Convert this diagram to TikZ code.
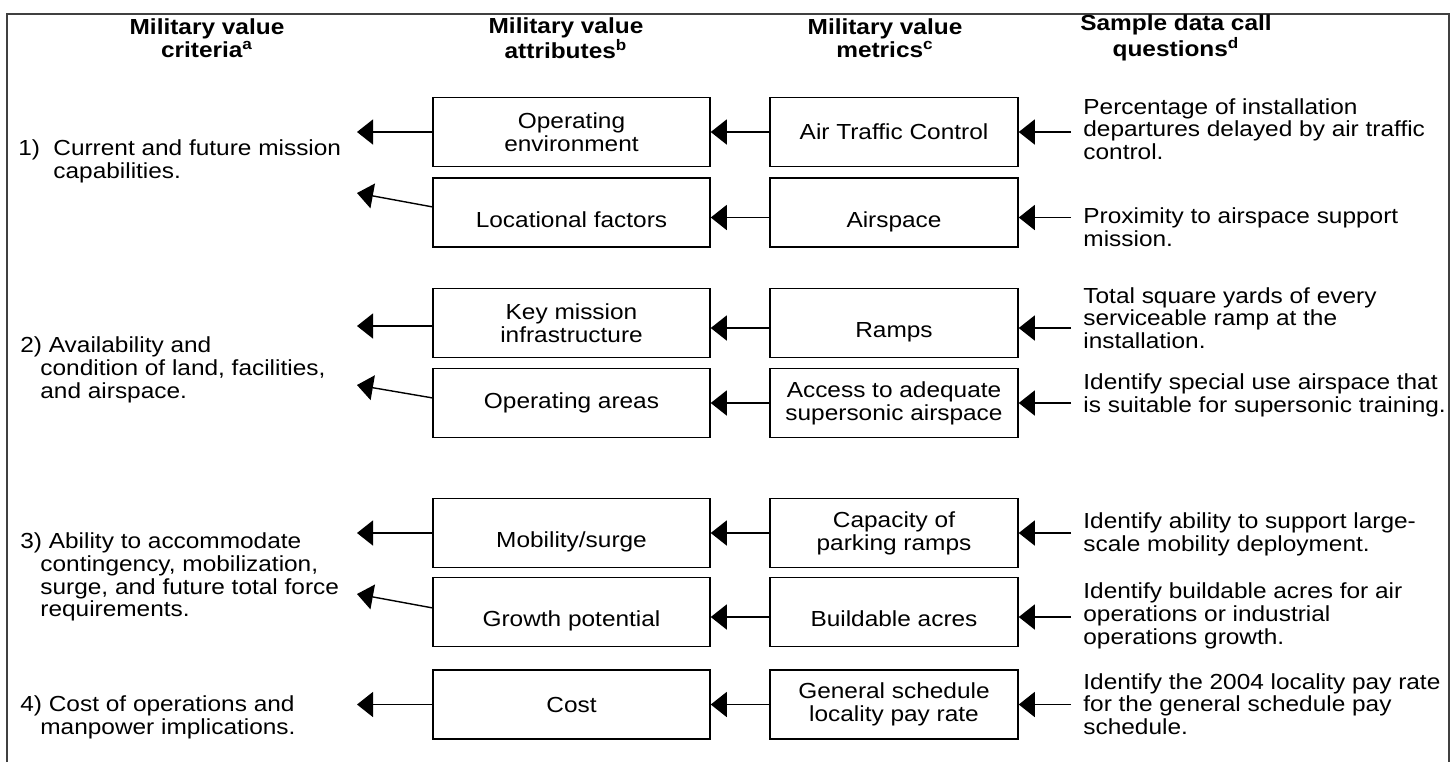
\documentclass[tikz,border=0pt]{standalone}
\usepackage{fontspec}
\setmainfont{Liberation Sans}[FakeStretch=1.12]
\usetikzlibrary{arrows.meta}
\tikzstyle{line} = [draw, -{Triangle[length=8pt,width=12.5pt]}, line width=0.7pt]

\begin{document}
\begin{tikzpicture}[x=0.5pt,y=-0.5pt,font=\fontsize{10.9}{11.4}\selectfont]
\tikzstyle{head} = [font=\fontsize{10.9}{11.6}\selectfont\bfseries, align=center]
\tikzstyle{attr} = [draw, line width=0.75pt, minimum width=138.5pt, minimum height=34.5pt, align=center]
\tikzstyle{metric} = [draw, line width=0.75pt, minimum width=124pt, minimum height=34.5pt, align=center]
\tikzstyle{low} = [text height=17pt, text depth=2.5pt]
\tikzstyle{crit} = [anchor=west, align=left, inner sep=0pt]
\tikzstyle{quest} = [anchor=west, align=left, inner xsep=6pt, inner ysep=0pt]
\useasboundingbox (0,0) rectangle (1455,762);
% frame, open at the bottom
\draw[line width=1pt, black!75] (7,762) -- (7,14) -- (1449,14) -- (1449,762);

% column heads
\node[head] (h1) at (207,38) {Military value\\criteria\textsuperscript{a}};
\node[head] (h2) at (566,38) {Military value\\attributes\textsuperscript{b}};
\node[head] (h3) at (885,38) {Military value\\metrics\textsuperscript{c}};
\node[head] (h4) at (1176,38) {Sample data call\\questions\textsuperscript{d}};

% criteria
\node[crit] (c1) at (18,161) {\makebox[17.5pt][l]{1)}Current and future mission\\\hspace*{17.5pt}capabilities.};
\node[crit] (c2) at (20,370) {2) Availability and\\\hspace*{10pt}condition of land, facilities,\\\hspace*{10pt}and airspace.};
\node[crit] (c3) at (20,577) {3) Ability to accommodate\\\hspace*{10pt}contingency, mobilization,\\\hspace*{10pt}surge, and future total force\\\hspace*{10pt}requirements.};
\node[crit] (c4) at (20,717) {4) Cost of operations and\\\hspace*{10pt}manpower implications.};

% attributes
\node[attr] (att1) at (571.5,132) {Operating\\environment};
\node[attr,low] (att2) at (571.5,212.5) {Locational factors};
\node[attr] (att3) at (571.5,323) {Key mission\\infrastructure};
\node[attr] (att4) at (571.5,403) {Operating areas};
\node[attr,low] (att5) at (571.5,533) {Mobility/surge};
\node[attr,low] (att6) at (571.5,612) {Growth potential};
\node[attr] (att7) at (571.5,704.5) {Cost};

% metrics
\node[metric] (met1) at (894,132) {Air Traffic Control};
\node[metric,low] (met2) at (894,212.5) {Airspace};
\node[metric,low] (met3) at (894,323) {Ramps};
\node[metric] (met4) at (894,403) {Access to adequate\\supersonic airspace};
\node[metric] (met5) at (894,533) {Capacity of\\parking ramps};
\node[metric,low] (met6) at (894,612) {Buildable acres};
\node[metric] (met7) at (894,704.5) {General schedule\\locality pay rate};

% sample questions
\node[quest] (q1) at (1071,129) {Percentage of installation\\departures delayed by air traffic\\control.};
\node[quest] (q2) at (1071,227) {Proximity to airspace support\\mission.};
\node[quest] (q3) at (1071,318) {Total square yards of every\\serviceable ramp at the\\installation.};
\node[quest] (q4) at (1071,395) {Identify special use airspace that\\is suitable for supersonic training.};
\node[quest] (q5) at (1071,534) {Identify ability to support large-\\scale mobility deployment.};
\node[quest] (q6) at (1071,616) {Identify buildable acres for air\\operations or industrial\\operations growth.};
\node[quest] (q7) at (1071,704) {Identify the 2004 locality pay rate\\for the general schedule pay\\schedule.};

% arrow tips at the criteria
\coordinate (t1) at (357,132);
\coordinate (s2) at (433,207);
\coordinate (t2) at (357,193);
\coordinate (t3) at (357,326);
\coordinate (s4) at (433,398);
\coordinate (t4) at (357,385);
\coordinate (t5) at (357,533);
\coordinate (s6) at (433,608);
\coordinate (t6) at (357,594);
\coordinate (t7) at (357,704.5);

% lowered rows
\coordinate (r2) at ([yshift=-2.5pt]met2.east);
\coordinate (r3) at ([yshift=-2.5pt]met3.east);
\coordinate (r6) at ([yshift=-2.5pt]met6.east);

\path [line] (att1.west) -- (t1);
\path [line] (s2) -- (t2);
\path [line] (att3.west |- t3) -- (t3);
\path [line] (s4) -- (t4);
\path [line] (att5.west) -- (t5);
\path [line] (s6) -- (t6);
\path [line] (att7.west) -- (t7);

\path [line] (met1) -- (att1);
\path [line] ([yshift=-2.5pt]met2.west) -- ([yshift=-2.5pt]att2.east);
\path [line] ([yshift=-2.5pt]met3.west) -- ([yshift=-2.5pt]att3.east);
\path [line] (met4) -- (att4);
\path [line] (met5) -- (att5);
\path [line] ([yshift=-2.5pt]met6.west) -- ([yshift=-2.5pt]att6.east);
\path [line] (met7) -- (att7);

\path [line] (q1.west |- met1) -- (met1);
\path [line] (q2.west |- r2) -- (r2);
\path [line] (q3.west |- r3) -- (r3);
\path [line] (q4.west |- met4) -- (met4);
\path [line] (q5.west |- met5) -- (met5);
\path [line] (q6.west |- r6) -- (r6);
\path [line] (q7.west |- met7) -- (met7);
\end{tikzpicture}
\end{document}
